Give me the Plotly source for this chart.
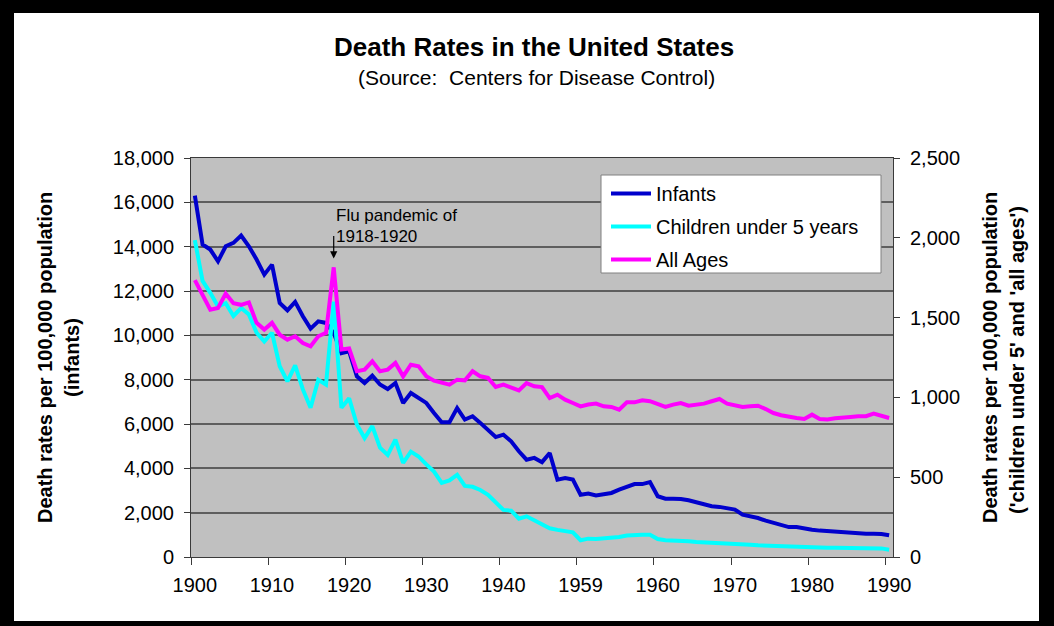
import plotly.graph_objects as go

years = list(range(1900, 1991))
tick_years = [1900, 1910, 1920, 1930, 1940, 1950, 1960, 1970, 1980, 1990]
tick_text = ["1900", "1910", "1920", "1930", "1940", "1959", "1960", "1970", "1980", "1990"]

infants = [16300, 14100, 13870, 13340, 14020, 14170, 14500, 14020, 13420, 12740,
           13190, 11460, 11130, 11510, 10860, 10300, 10630, 10560, 10100, 9200,
           9280, 8150, 7850, 8180, 7780, 7580, 7850, 6950, 7400, 7170,
           6950, 6500, 6080, 6080, 6720, 6200, 6350, 6050, 5750, 5410,
           5520, 5220, 4770, 4390, 4470, 4280, 4690, 3490, 3560, 3490,
           2810, 2860, 2780, 2840, 2890, 3040, 3160, 3290, 3290, 3380,
           2740, 2630, 2630, 2620, 2560, 2470, 2360, 2290, 2260, 2210,
           2140, 1910, 1840, 1760, 1640, 1530, 1430, 1350, 1350, 1280,
           1230, 1190, 1160, 1160, 1130, 1080, 1050, 1050, 1050, 1040,
           980]

children = [1985, 1730, 1655, 1570, 1590, 1510, 1560, 1520, 1405, 1350,
            1405, 1195, 1100, 1200, 1050, 935, 1110, 1080, 1600, 935,
            995, 830, 745, 820, 685, 640, 735, 590, 660, 630,
            580, 535, 465, 480, 515, 445, 440, 420, 390, 340,
            295, 290, 240, 255, 230, 200, 180, 170, 165, 155,
            105, 115, 113, 115, 120, 125, 135, 140, 140, 140,
            113, 105, 104, 102, 98, 94, 92, 88, 84, 86,
            86, 81, 77, 73, 71, 67, 67, 65, 65, 61,
            61, 58, 58, 58, 58, 56, 56, 56, 56, 54,
            46]

all_ages = [1735, 1645, 1550, 1560, 1650, 1590, 1580, 1595, 1467, 1425,
            1467, 1393, 1362, 1383, 1341, 1320, 1383, 1404, 1815, 1300,
            1306, 1164, 1174, 1226, 1164, 1174, 1216, 1132, 1205, 1195,
            1132, 1105, 1090, 1080, 1111, 1107, 1164, 1132, 1122, 1065,
            1080, 1065, 1044, 1090, 1070, 1065, 996, 1017, 986, 965,
            944, 955, 961, 944, 940, 923, 969, 969, 982, 976,
            961, 940, 955, 965, 948, 955, 961, 976, 990, 961,
            948, 940, 944, 948, 927, 902, 888, 877, 871, 865,
            892, 865, 861, 869, 871, 877, 882, 882, 898, 882,
            871]

W, H = 1054, 626
L, R, T, B = 191, 893, 158, 557  # plot area in pixels
FONT = "Liberation Sans, Arial, sans-serif"


def px(x):
    return (x - L) / (R - L)


def py(y):
    return (B - y) / (B - T)


fig = go.Figure()
fig.add_trace(go.Scatter(x=years, y=infants, name="Infants", mode="lines",
                         line=dict(color="#0000CC", width=4), legendgroup="a"))
fig.add_trace(go.Scatter(x=years, y=children, name="Children under 5 years", mode="lines",
                         line=dict(color="#00FFFF", width=4), yaxis="y2", legendgroup="b"))
fig.add_trace(go.Scatter(x=years, y=all_ages, name="All Ages", mode="lines",
                         line=dict(color="#FF00FF", width=4), yaxis="y2", legendgroup="c"))

axis_col = "#3a3a3a"
fig.update_layout(
    width=W, height=H,
    margin=dict(l=L, r=W - R, t=T, b=H - B, pad=0),
    paper_bgcolor="white",
    plot_bgcolor="#C0C0C0",
    font=dict(family=FONT, color="black", size=20),
    showlegend=True,
    legend=dict(x=px(606), y=py(174), xanchor="left", yanchor="top",
                bgcolor="rgba(0,0,0,0)", borderwidth=0,
                font=dict(size=20, family=FONT), tracegroupgap=4,
                itemwidth=40),
    xaxis=dict(range=[1899.5, 1990.5], tickmode="array", tickvals=tick_years,
               ticktext=tick_text, ticks="", showgrid=False, zeroline=False,
               showline=True, linecolor=axis_col, linewidth=1, mirror=True,
               tickfont=dict(size=20), ticklabelstandoff=10,
               minor=dict(tickmode="array",
                          tickvals=[y - 0.5 for y in tick_years],
                          ticks="outside", ticklen=7, tickcolor=axis_col, showgrid=False)),
    yaxis=dict(range=[0, 18000], tickmode="linear", tick0=0, dtick=2000,
               tickformat=",", ticks="outside", ticklen=6, tickcolor=axis_col,
               showgrid=True, gridcolor="#5e5e5e", gridwidth=1.5, zeroline=False,
               showline=True, linecolor=axis_col, linewidth=1, mirror=False,
               tickfont=dict(size=20), ticklabelstandoff=6),
    yaxis2=dict(range=[0, 2500], tickmode="linear", tick0=0, dtick=500,
                tickformat=",", overlaying="y", side="right", ticks="outside",
                ticklen=6, tickcolor=axis_col, showgrid=False, zeroline=False,
                showline=True, linecolor=axis_col, linewidth=1,
                tickfont=dict(size=20), ticklabelstandoff=6),
)

annotations = [
    dict(text="<b>Death Rates in the United States</b>", x=px(534), y=py(47),
         xref="paper", yref="paper", showarrow=False, xanchor="center", yanchor="middle",
         font=dict(size=26, family=FONT)),
    dict(text="(Source:  Centers for Disease Control)", x=px(536), y=py(77),
         xref="paper", yref="paper", showarrow=False, xanchor="center", yanchor="middle",
         font=dict(size=21, family=FONT)),
    dict(text="<b>Death rates per 100,000 population</b>", x=px(45), y=py(358),
         xref="paper", yref="paper", showarrow=False, textangle=-90,
         xanchor="center", yanchor="middle", font=dict(size=20, family=FONT)),
    dict(text="<b>(infants)</b>", x=px(72), y=py(358),
         xref="paper", yref="paper", showarrow=False, textangle=-90,
         xanchor="center", yanchor="middle", font=dict(size=20, family=FONT)),
    dict(text="<b>Death rates per 100,000 population</b>", x=px(990), y=py(358),
         xref="paper", yref="paper", showarrow=False, textangle=-90,
         xanchor="center", yanchor="middle", font=dict(size=20, family=FONT)),
    dict(text="<b>('children under 5' and 'all ages')</b>", x=px(1017), y=py(360),
         xref="paper", yref="paper", showarrow=False, textangle=-90,
         xanchor="center", yanchor="middle", font=dict(size=20, family=FONT)),
    dict(text="Flu pandemic of", x=px(334), y=py(215), xref="paper", yref="paper",
         showarrow=False, xanchor="left", yanchor="middle", font=dict(size=17, family=FONT)),
    dict(text="1918-1920", x=px(334), y=py(236), xref="paper", yref="paper",
         showarrow=False, xanchor="left", yanchor="middle", font=dict(size=17, family=FONT)),
    dict(text="", x=1918, y=all_ages[18] + 55, xref="x", yref="y2", showarrow=True,
         ax=0, ay=-24, arrowhead=2, arrowsize=1.2, arrowwidth=1.2, arrowcolor="black"),
]
fig.update_layout(annotations=annotations)

shapes = [
    # legend box
    dict(type="rect", xref="paper", yref="paper", x0=px(601), x1=px(881), y0=py(273), y1=py(175),
         fillcolor="white", line=dict(color="#808080", width=1), layer="above"),
    # black frame
    dict(type="rect", xref="paper", yref="paper", x0=px(0), x1=px(14), y0=py(H), y1=py(0),
         fillcolor="black", line=dict(width=0), layer="above"),
    dict(type="rect", xref="paper", yref="paper", x0=px(1039), x1=px(W), y0=py(H), y1=py(0),
         fillcolor="black", line=dict(width=0), layer="above"),
    dict(type="rect", xref="paper", yref="paper", x0=px(0), x1=px(W), y0=py(13), y1=py(0),
         fillcolor="black", line=dict(width=0), layer="above"),
    dict(type="rect", xref="paper", yref="paper", x0=px(0), x1=px(W), y0=py(H), y1=py(621),
         fillcolor="black", line=dict(width=0), layer="above"),
]
fig.update_layout(shapes=shapes)

fig.write_html("out.html", config={"displayModeBar": False},
               post_script="document.body.style.margin='0px';document.body.style.overflow='hidden';")
